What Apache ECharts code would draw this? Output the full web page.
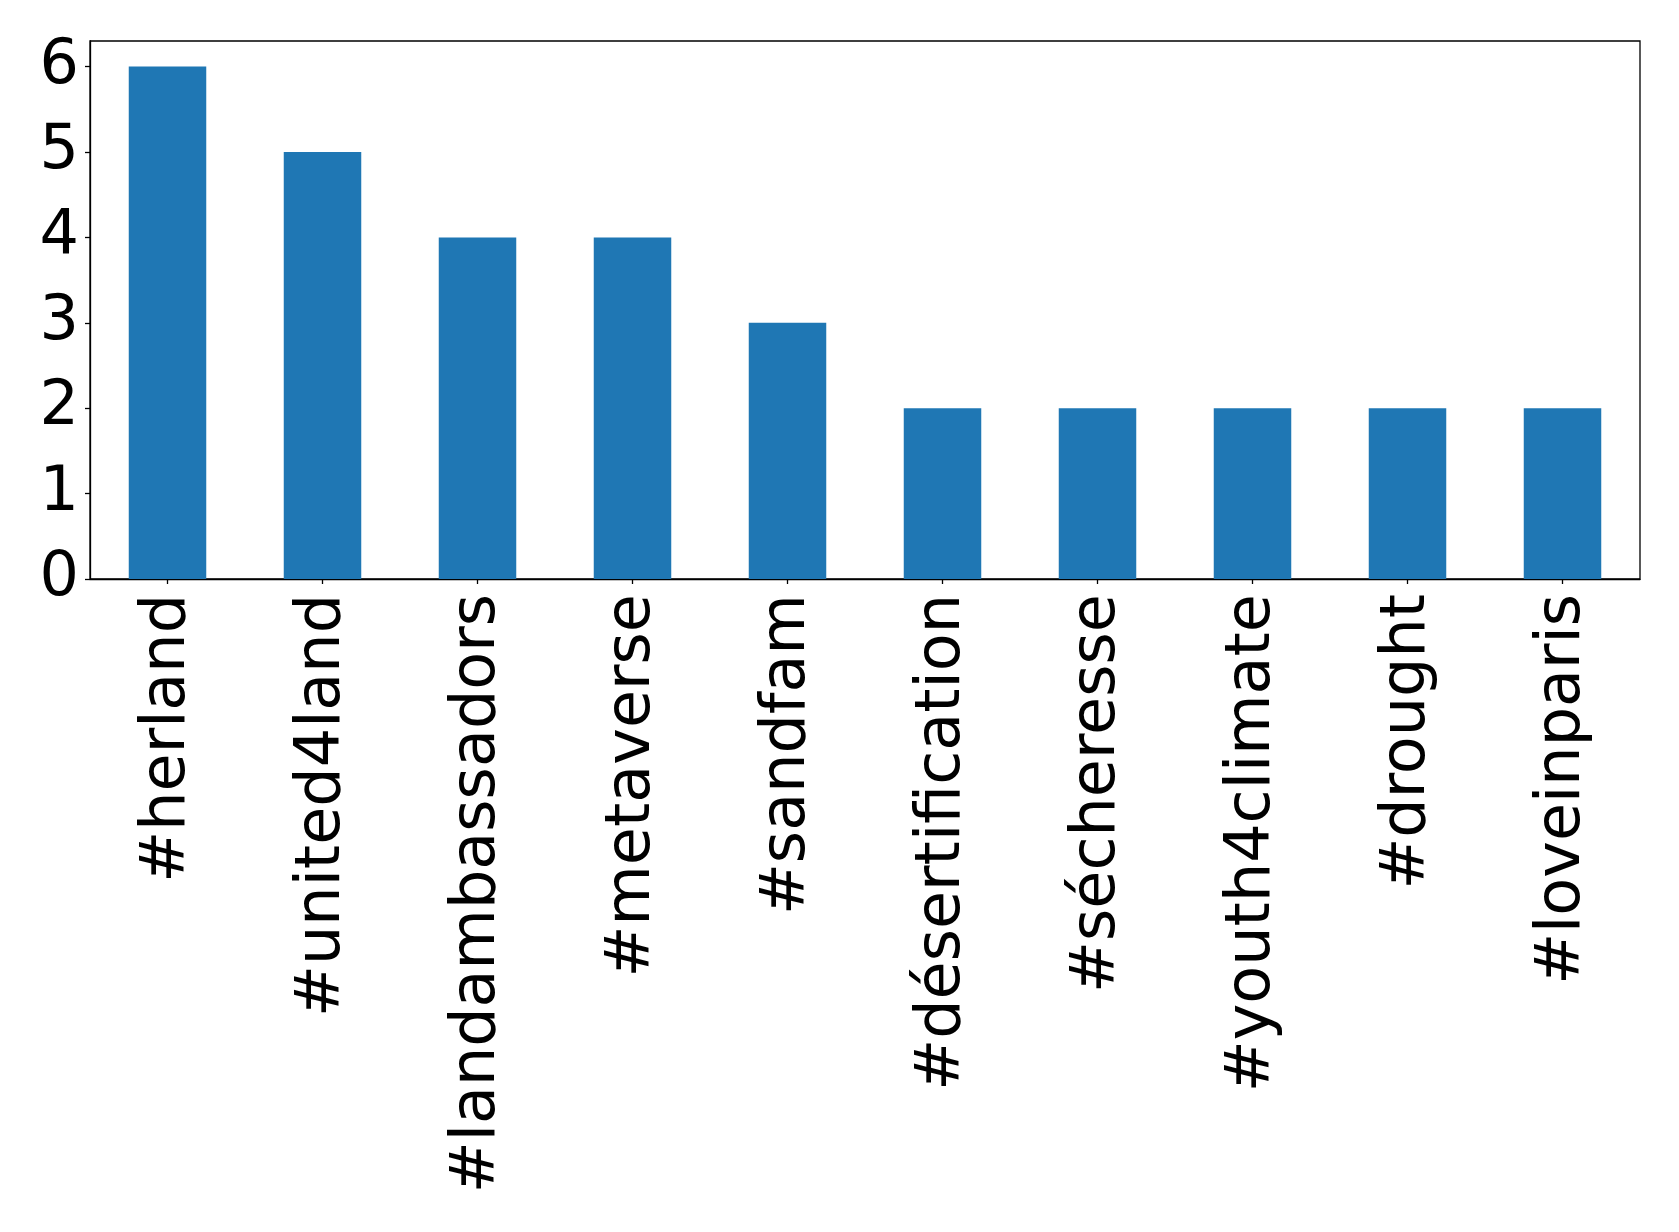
<!DOCTYPE html>
<html>
<head>
<meta charset="utf-8">
<script src="https://cdn.jsdelivr.net/npm/echarts@6/dist/echarts.min.js"></script>
<style>html,body{margin:0;padding:0;background:#fff;}#c{width:1679px;height:1232px;}</style>
</head>
<body>
<div id="c"></div>
<script>
const categories = ['#herland','#united4land','#landambassadors','#metaverse','#sandfam','#désertification','#sécheresse','#youth4climate','#drought','#loveinparis'];
const counts = [6,5,4,4,3,2,2,2,2,2];
const yTicks = [0,1,2,3,4,5,6];

const chart = echarts.init(document.getElementById('c'), null, {renderer:'canvas'});
const font = 'DejaVu Sans';
chart.setOption({
  animation:false,
  backgroundColor:'#ffffff',
  grid:{left:90,top:41,right:39,bottom:653,containLabel:false,show:true,borderColor:'#000',borderWidth:1.3,backgroundColor:'transparent'},
  xAxis:{
    type:'category',
    data:categories,
    boundaryGap:true,
    axisLine:{show:true,lineStyle:{color:'#000',width:1.3}},
    axisTick:{show:true,alignWithLabel:true,length:5,lineStyle:{color:'#000',width:1.3}},
    axisLabel:{rotate:90,interval:0,margin:15,color:'#000',fontFamily:font,fontSize:62}
  },
  yAxis:{
    type:'value',
    min:0,max:6.3,interval:1,
    splitLine:{show:false},
    axisLine:{show:true,lineStyle:{color:'#000',width:1.3}},
    axisTick:{show:true,length:5,lineStyle:{color:'#000',width:1.3},customValues:yTicks},
    axisLabel:{color:'#000',fontFamily:font,fontSize:62,margin:11,customValues:yTicks}
  },
  series:[{type:'bar',data:counts,barWidth:'50%',itemStyle:{color:'#1f77b4'}}]
});
</script>
</body>
</html>
